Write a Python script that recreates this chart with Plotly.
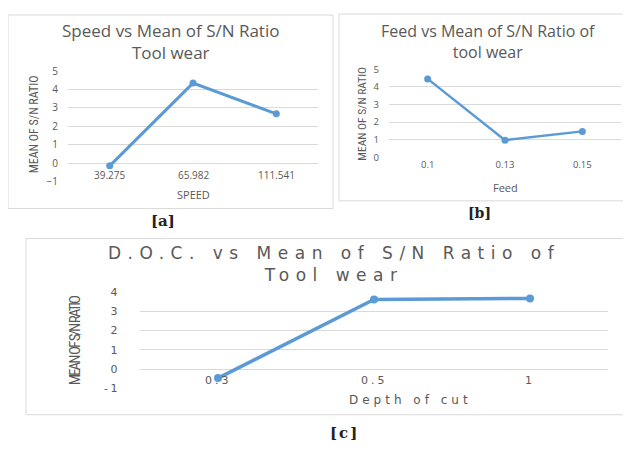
import plotly.graph_objects as go

W, H = 631, 452
OFF = 8  # the page body keeps an 8px margin around the figure
FW, FH = W - 2 * OFF, H - 2 * OFF  # keep the page from overflowing the window

# ---- data ----
speed_labels = ["39.275", "65.982", "111.541"]
speed_sn = [-0.15, 4.35, 2.68]

feed_labels = ["0.1", "0.13", "0.15"]
feed_sn = [4.45, 0.97, 1.47]

doc_labels = ["0.3", "0.5", "1"]
doc_sn = [-0.47, 3.62, 3.67]
doc_ticks = [-1, 0, 1, 2, 3, 4]

BLUE = "#5B9BD5"
GRAY = "#595959"
GRID = "#D9D9D9"
SANS = "Open Sans, Lato, sans-serif"
NARROW = "Liberation Sans Narrow, Arial Narrow, Roboto Condensed, Roboto, sans-serif"
WIDE = "DejaVu Sans, Verdana, sans-serif"


def xf(px):
    return (px - OFF) / FW


def yf(py):
    return 1 - (py - OFF) / FH


fig = go.Figure()

fig.add_trace(go.Scatter(x=list(range(len(speed_labels))), y=speed_sn, mode="lines+markers",
                         line=dict(color=BLUE, width=3), marker=dict(size=7, color=BLUE),
                         xaxis="x", yaxis="y", showlegend=False))
fig.add_trace(go.Scatter(x=list(range(len(feed_labels))), y=feed_sn, mode="lines+markers",
                         line=dict(color=BLUE, width=2.5), marker=dict(size=7, color=BLUE),
                         xaxis="x2", yaxis="y2", showlegend=False))
fig.add_trace(go.Scatter(x=list(range(len(doc_labels))), y=doc_sn, mode="lines+markers",
                         line=dict(color=BLUE, width=3.5), marker=dict(size=8, color=BLUE),
                         xaxis="x3", yaxis="y3", showlegend=False))

xcommon = dict(range=[-0.5, 2.5], showgrid=False, zeroline=False, showline=False,
               showticklabels=False, ticks="", fixedrange=True)
ycommon = dict(showgrid=True, gridcolor=GRID, gridwidth=1, zeroline=False, showline=False,
               ticks="", dtick=1, fixedrange=True)

fig.update_layout(
    width=FW, height=FH,
    margin=dict(l=0, r=0, t=0, b=0),
    paper_bgcolor="white", plot_bgcolor="white",
    xaxis=dict(xcommon, domain=[xf(68), xf(318)], anchor="y"),
    yaxis=dict(ycommon, domain=[yf(180), yf(66)], range=[-1, 5], anchor="x",
               tickfont=dict(family=SANS, size=10, color=GRAY), ticklabelstandoff=9),
    xaxis2=dict(xcommon, domain=[xf(389), xf(621)], anchor="y2", showticklabels=True,
                tickmode="array", tickvals=list(range(len(feed_labels))), ticktext=feed_labels,
                tickfont=dict(family=SANS, size=9.5, color=GRAY)),
    yaxis2=dict(ycommon, domain=[yf(155), yf(64)], range=[0, 5], anchor="x2",
                tickfont=dict(family=SANS, size=9.5, color=GRAY), ticklabelstandoff=9),
    xaxis3=dict(xcommon, domain=[xf(140), xf(608)], anchor="y3"),
    yaxis3=dict(ycommon, domain=[yf(393.7), yf(294.3)], range=[-1, 4], anchor="x3",
                tickmode="array", tickvals=doc_ticks,
                ticktext=['<span style="letter-spacing:2.5px">%d</span>' % v for v in doc_ticks],
                tickfont=dict(family=WIDE, size=11, color=GRAY), ticklabelstandoff=19),
)

# panel borders
for x0, y0, x1, y1 in [(8, 8, 333, 208), (339, 7, 640, 200), (26, 239, 640, 421)]:
    fig.add_shape(type="rect", xref="paper", yref="paper",
                  x0=xf(x0), y0=yf(y1), x1=xf(x1), y1=yf(y0),
                  line=dict(color=GRID, width=1), fillcolor="rgba(0,0,0,0)", layer="below")

ann = []


def txt(text, x, y, size, family, color=GRAY, angle=0):
    ann.append(dict(text=text, x=xf(x), y=yf(y), xref="paper", yref="paper",
                    showarrow=False, xanchor="center", yanchor="middle",
                    textangle=angle, font=dict(family=family, size=size, color=color)))


# titles
txt("Speed vs Mean of S/N Ratio<br>Tool wear", 170, 35, 17, SANS)
txt("Feed vs Mean of S/N Ratio of<br>tool wear", 488, 35, 16, SANS)
txt('<span style="letter-spacing:6.5px">D.O.C. vs Mean of S/N Ratio of<br>Tool wear</span>',
    334, 265, 17, WIDE)

# axis titles
txt("SPEED", 193, 193, 11, SANS)
txt("Feed", 505, 186, 11, SANS)
txt('<span style="letter-spacing:4px">Depth of cut</span>', 410, 406, 12, WIDE)
txt("MEAN OF S/N RATIO", 34, 121, 12, NARROW, angle=-90)
txt("MEAN OF S/N RATIO", 362, 110, 11.5, NARROW, angle=-90)
txt('<span style="letter-spacing:-2px">MEAN OF S/N RATIO</span>', 75, 344, 15, NARROW, angle=-90)

# panel letters
txt("<b>[a]</b>", 163, 221, 15, "DejaVu Serif, serif", color="#222222")
txt("<b>[b]</b>", 479, 213, 14, "DejaVu Serif, serif", color="#222222")
txt('<b><span style="letter-spacing:2px">[c]</span></b>', 344, 440, 15, "DejaVu Serif, serif",
    color="#222222")

# category labels for panels a and c (drawn just below the zero line, as in the original)
for i, lab in enumerate(speed_labels):
    ann.append(dict(text=lab, x=i, y=0, xref="x", yref="y", yshift=-12, showarrow=False,
                    xanchor="center", yanchor="middle",
                    font=dict(family=SANS, size=10, color=GRAY)))
for i, lab in enumerate(doc_labels):
    ann.append(dict(text='<span style="letter-spacing:3px">' + lab + "</span>", x=i, y=0,
                    xref="x3", yref="y3", yshift=-11, showarrow=False,
                    xanchor="center", yanchor="middle",
                    font=dict(family=WIDE, size=11, color=GRAY)))

fig.update_layout(annotations=ann)
fig.write_html("out.html")
